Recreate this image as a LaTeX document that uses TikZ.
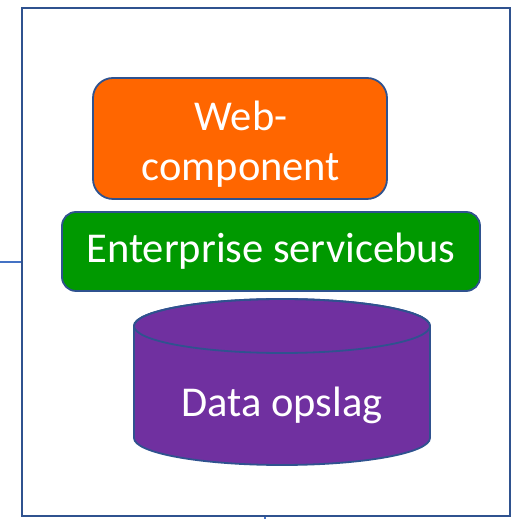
\documentclass[tikz,border=0pt]{standalone}
\usepackage{fontspec}
\setmainfont{Carlito}
\definecolor{edgeblue}{HTML}{2F528F}
\definecolor{stubblue}{HTML}{4472C4}
\definecolor{orangefill}{HTML}{FF6600}
\definecolor{greenfill}{HTML}{009900}
\definecolor{purplefill}{HTML}{7030A0}
\begin{document}
\begin{tikzpicture}[x=1pt,y=1pt,
  layerbox/.style={draw=edgeblue, line width=1.8pt, text=white, align=center,
    inner sep=0pt, font=\fontsize{42.5}{50}\selectfont},
  labeltext/.style={text=white, align=center, inner sep=0pt,
    font=\fontsize{42.5}{50}\selectfont},
  stub/.style={draw=stubblue, line width=1.6pt}]
\useasboundingbox (0,0) rectangle (513,519);
\fill[white] (0,0) rectangle (513,519);
\node[draw=edgeblue, line width=1.8pt, minimum width=488pt, minimum height=508pt,
  inner sep=0pt, anchor=south west] (frame) at (21,2) {};
\coordinate (lstub) at (0,257);
\draw[stub] (lstub) -- (frame.west |- lstub);
\coordinate (bstub) at (265,0);
\draw[stub] (bstub) -- (frame.south -| bstub);
\node[layerbox, fill=orangefill, rounded corners=20pt, minimum width=294pt,
  minimum height=121pt] (web) at (240,380.5) {};
\node[labeltext] (webtext) at ([xshift=1pt,yshift=-6pt]web.center) {Web-\\component};
\node[layerbox, fill=greenfill, rounded corners=14pt, minimum width=418pt,
  minimum height=79pt] (esb) at (271,267.5) {Enterprise servicebus};
% cylinder
\fill[purplefill, draw=edgeblue, line width=1.8pt]
  (134,193) -- (134,81) arc[start angle=180, end angle=360, x radius=148, y radius=27]
  -- (430,193) arc[start angle=0, end angle=180, x radius=148, y radius=27] -- cycle;
\draw[edgeblue, line width=1.8pt] (282,193) ellipse[x radius=148, y radius=27];
\node[labeltext, anchor=base] (data) at (282,102) {Data opslag};
\end{tikzpicture}
\end{document}
